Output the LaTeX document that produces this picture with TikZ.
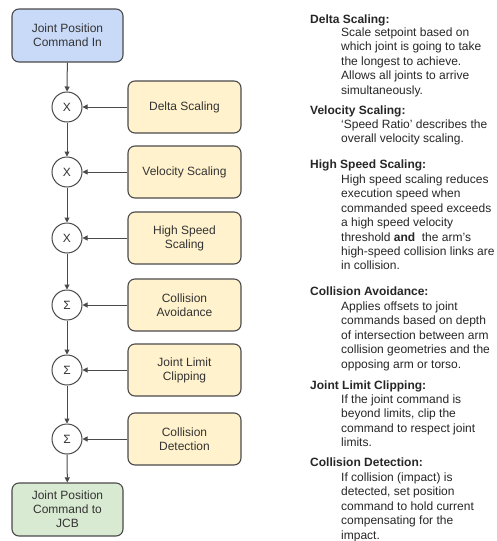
\documentclass[tikz,border=0pt]{standalone}
\usepackage{fontspec}
\setmainfont{Liberation Sans}
\usetikzlibrary{arrows.meta}
\definecolor{blueF}{HTML}{C9DAF8}
\definecolor{yellowF}{HTML}{FFF2CC}
\definecolor{greenF}{HTML}{D9EAD3}
\definecolor{edgeC}{HTML}{4A4A4A}
\definecolor{txtC}{HTML}{333333}
\newcommand{\para}[1]{\begin{tabular}[t]{@{}l@{}}#1\end{tabular}}
\begin{document}
\begin{tikzpicture}[x=1pt,y=-1pt,
  box/.style={draw=edgeC, line width=1.1pt, rounded corners=7pt, minimum width=111pt, minimum height=53pt,
    align=center, font=\fontsize{12}{14}\selectfont, text=txtC, inner sep=0pt},
  inbox/.style={box, fill=blueF},
  outbox/.style={box, fill=greenF},
  ybox/.style={box, fill=yellowF, minimum width=113pt, minimum height=52pt},
  op/.style={circle, draw=edgeC, line width=1pt, fill=white, minimum size=30pt, inner sep=0pt,
    font=\fontsize{12}{14}\selectfont, text=txtC},
  arr/.style={draw=edgeC, line width=1pt, -{Triangle[length=5pt,width=5pt]}},
  head/.style={anchor=base west, inner sep=0pt, font=\fontsize{12}{14.4}\selectfont\bfseries, text=black!85},
  body/.style={anchor=base west, inner sep=0pt, font=\fontsize{12}{14.4}\selectfont, text=black!85}
]
\useasboundingbox (0,0) rectangle (496,541);

\node[inbox] (in) at (67.5,35.5) {Joint Position\\Command In};
\node[op] (c1) at (67,107) {X};
\node[op] (c2) at (67,172) {X};
\node[op] (c3) at (67,238) {X};
\node[op] (c4) at (67,305) {Σ};
\node[op] (c5) at (67,370) {Σ};
\node[op] (c6) at (67,439) {Σ};
\node[outbox] (out) at (67.5,509.5) {Joint Position\\Command to\\JCB};

\node[ybox] (y1) at (184.5,107) {Delta Scaling};
\node[ybox] (y2) at (184.5,172) {Velocity Scaling};
\node[ybox] (y3) at (184.5,238) {High Speed\\Scaling};
\node[ybox] (y4) at (184.5,305) {Collision\\Avoidance};
\node[ybox] (y5) at (184.5,370) {Joint Limit\\Clipping};
\node[ybox] (y6) at (184.5,439) {Collision\\Detection};

\draw[arr] (in) -- (c1);
\draw[arr] (c1) -- (c2);
\draw[arr] (c2) -- (c3);
\draw[arr] (c3) -- (c4);
\draw[arr] (c4) -- (c5);
\draw[arr] (c5) -- (c6);
\draw[arr] (c6) -- (out);
\draw[arr] (y1) -- (c1);
\draw[arr] (y2) -- (c2);
\draw[arr] (y3) -- (c3);
\draw[arr] (y4) -- (c4);
\draw[arr] (y5) -- (c5);
\draw[arr] (y6) -- (c6);

\node[head] (h1) at (310,23.5) {Delta Scaling:};
\node[body] (b1) at (341,36.5) {\para{Scale setpoint based on\\which joint is going to take\\the longest to achieve.\\Allows all joints to arrive\\simultaneously.}};
\node[head] (h2) at (310,114.5) {Velocity Scaling:};
\node[body] (b2) at (341,128.5) {\para{‘Speed Ratio’ describes the\\overall velocity scaling.}};
\node[head] (h3) at (310,168.5) {High Speed Scaling:};
\node[body] (b3) at (341,183.5) {\para{High speed scaling reduces\\execution speed when\\commanded speed exceeds\\a high speed velocity\\threshold \textbf{and}\ \ the arm’s\\high-speed collision links are\\in collision.}};
\node[head] (h4) at (310,295.5) {Collision Avoidance:};
\node[body] (b4) at (341,310.5) {\para{Applies offsets to joint\\commands based on depth\\of intersection between arm\\collision geometries and the\\opposing arm or torso.}};
\node[head] (h5) at (310,389.5) {Joint Limit Clipping:};
\node[body] (b5) at (341,403.5) {\para{If the joint command is\\beyond limits, clip the\\command to respect joint\\limits.}};
\node[head] (h6) at (310,466.5) {Collision Detection:};
\node[body] (b6) at (341,481.5) {\para{If collision (impact) is\\detected, set position\\command to hold current\\compensating for the\\impact.}};
\end{tikzpicture}
\end{document}
